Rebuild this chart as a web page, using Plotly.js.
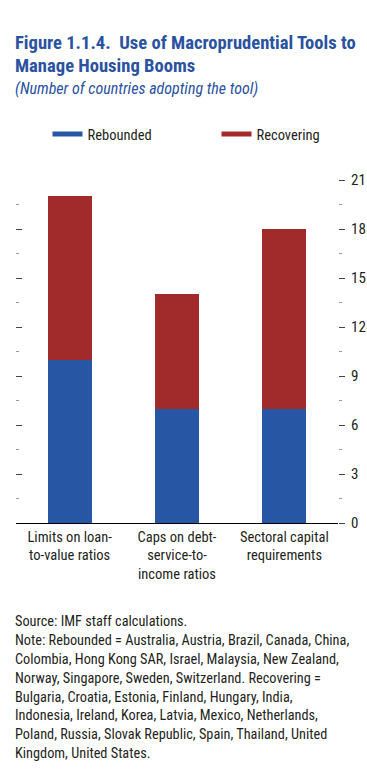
<!DOCTYPE html>
<html>
<head>
<meta charset="utf-8">
<script src="https://cdn.plot.ly/plotly-3.0.1.min.js"></script>
<style>html,body{margin:0;padding:0;background:#fff;}#chart{width:367px;height:774px;}</style>
</head>
<body>
<div id="chart"></div>
<script>
const categories = ["Limits on loan-<br>to-value ratios", "Caps on debt-<br>service-to-<br>income ratios", "Sectoral capital<br>requirements"];
const rebounded = [10, 7, 7];
const recovering = [10, 7, 11];
const seriesNames = ["Rebounded", "Recovering"];
const majorTicks = [0, 3, 6, 9, 12, 15, 18, 21];
const titleLines = ["Figure 1.1.4.  Use of Macroprudential Tools to", "Manage Housing Booms"];
const subtitle = "(Number of countries adopting the tool)";
const noteLines = [
  "Source: IMF staff calculations.",
  "Note: Rebounded = Australia, Austria, Brazil, Canada, China,",
  "Colombia, Hong Kong SAR, Israel, Malaysia, New Zealand,",
  "Norway, Singapore, Sweden, Switzerland. Recovering =",
  "Bulgaria, Croatia, Estonia, Finland, Hungary, India,",
  "Indonesia, Ireland, Korea, Latvia, Mexico, Netherlands,",
  "Poland, Russia, Slovak Republic, Spain, Thailand, United",
  "Kingdom, United States."
];

const BLUE = "#2756a4", RED = "#a12b2a", TITLE = "#2a52a0", TXT = "#231f20";
const FONT = "'Roboto Condensed', 'Roboto', sans-serif";

const W = 367, H = 774;
const L = 16, R = 338, T = 180, B = 523;
const px = x => (x - L) / (R - L);
const py = y => (B - y) / (B - T);

const traces = [
  {type: "bar", x: categories, y: rebounded, name: seriesNames[0], marker: {color: BLUE}, width: 0.41, showlegend: false, hoverinfo: "skip"},
  {type: "bar", x: categories, y: recovering, name: seriesNames[1], marker: {color: RED}, width: 0.41, showlegend: false, hoverinfo: "skip"},
  {type: "scatter", mode: "lines", x: [null], y: [null], name: seriesNames[0], line: {color: BLUE, width: 5}, legend: "legend"},
  {type: "scatter", mode: "lines", x: [null], y: [null], name: seriesNames[1], line: {color: RED, width: 5}, legend: "legend2"},
  {type: "bar", x: categories, y: [0,0,0], yaxis: "y2", showlegend: false, hoverinfo: "skip", marker: {color: "rgba(0,0,0,0)"}}
];

const annotations = [];
titleLines.forEach((t, i) => annotations.push({
  text: "<b>" + t + "</b>", xref: "paper", yref: "paper", x: px(13), y: py([43, 66][i]),
  xanchor: "left", yanchor: "middle", showarrow: false, align: "left",
  font: {family: FONT, size: 18.6, color: TITLE}
}));
annotations.push({
  text: "<i>" + subtitle + "</i>", xref: "paper", yref: "paper", x: px(13), y: py(88),
  xanchor: "left", yanchor: "middle", showarrow: false, align: "left",
  font: {family: FONT, size: 16, color: TITLE}
});
const noteY = [620.7, 640, 659, 677.7, 696.7, 715.3, 734, 752.7];
noteLines.forEach((t, i) => annotations.push({
  text: t, xref: "paper", yref: "paper", x: px(13), y: py(noteY[i]),
  xanchor: "left", yanchor: "middle", showarrow: false, align: "left",
  font: {family: FONT, size: 14.3, color: TXT}
}));

const yCommon = {
  range: [0, 21], tickvals: majorTicks, ticks: "outside", ticklen: 6, tickcolor: "#444",
  showgrid: false, zeroline: false, showline: false, fixedrange: true,
  minor: {dtick: 1.5, tick0: 0, ticks: "outside", ticklen: 3, tickcolor: "#999", showgrid: false}
};

const legendCommon = {orientation: "h", xanchor: "left", yanchor: "middle",
  font: {family: FONT, size: 14.5, color: TXT}, itemwidth: 30, bgcolor: "rgba(0,0,0,0)"};

const layout = {
  width: W, height: H,
  margin: {l: L, r: W - R, t: T, b: H - B, pad: 0},
  paper_bgcolor: "#fff", plot_bgcolor: "#fff",
  font: {family: FONT, size: 14, color: TXT},
  barmode: "stack", bargap: 0.59,
  showlegend: true,
  legend: Object.assign({}, legendCommon, {x: px(47.5), y: py(134)}),
  legend2: Object.assign({}, legendCommon, {x: px(216.5), y: py(134)}),
  xaxis: {showline: true, linecolor: "#000", linewidth: 1.2, ticks: "", showgrid: false, zeroline: false,
    tickfont: {family: FONT, size: 14.5, color: TXT}, fixedrange: true, automargin: false},
  yaxis: Object.assign({}, yCommon, {showticklabels: false, ticks: "inside", minor: {dtick: 1.5, ticks: "inside", ticklen: 3, tickcolor: "#999"}}),
  yaxis2: Object.assign({}, yCommon, {overlaying: "y", side: "right", showticklabels: true,
    tickfont: {family: FONT, size: 15, color: TXT}, ticklabelstandoff: 3}),
  annotations: annotations
};

Plotly.newPlot("chart", traces, layout, {staticPlot: true, displayModeBar: false});
</script>
</body>
</html>
